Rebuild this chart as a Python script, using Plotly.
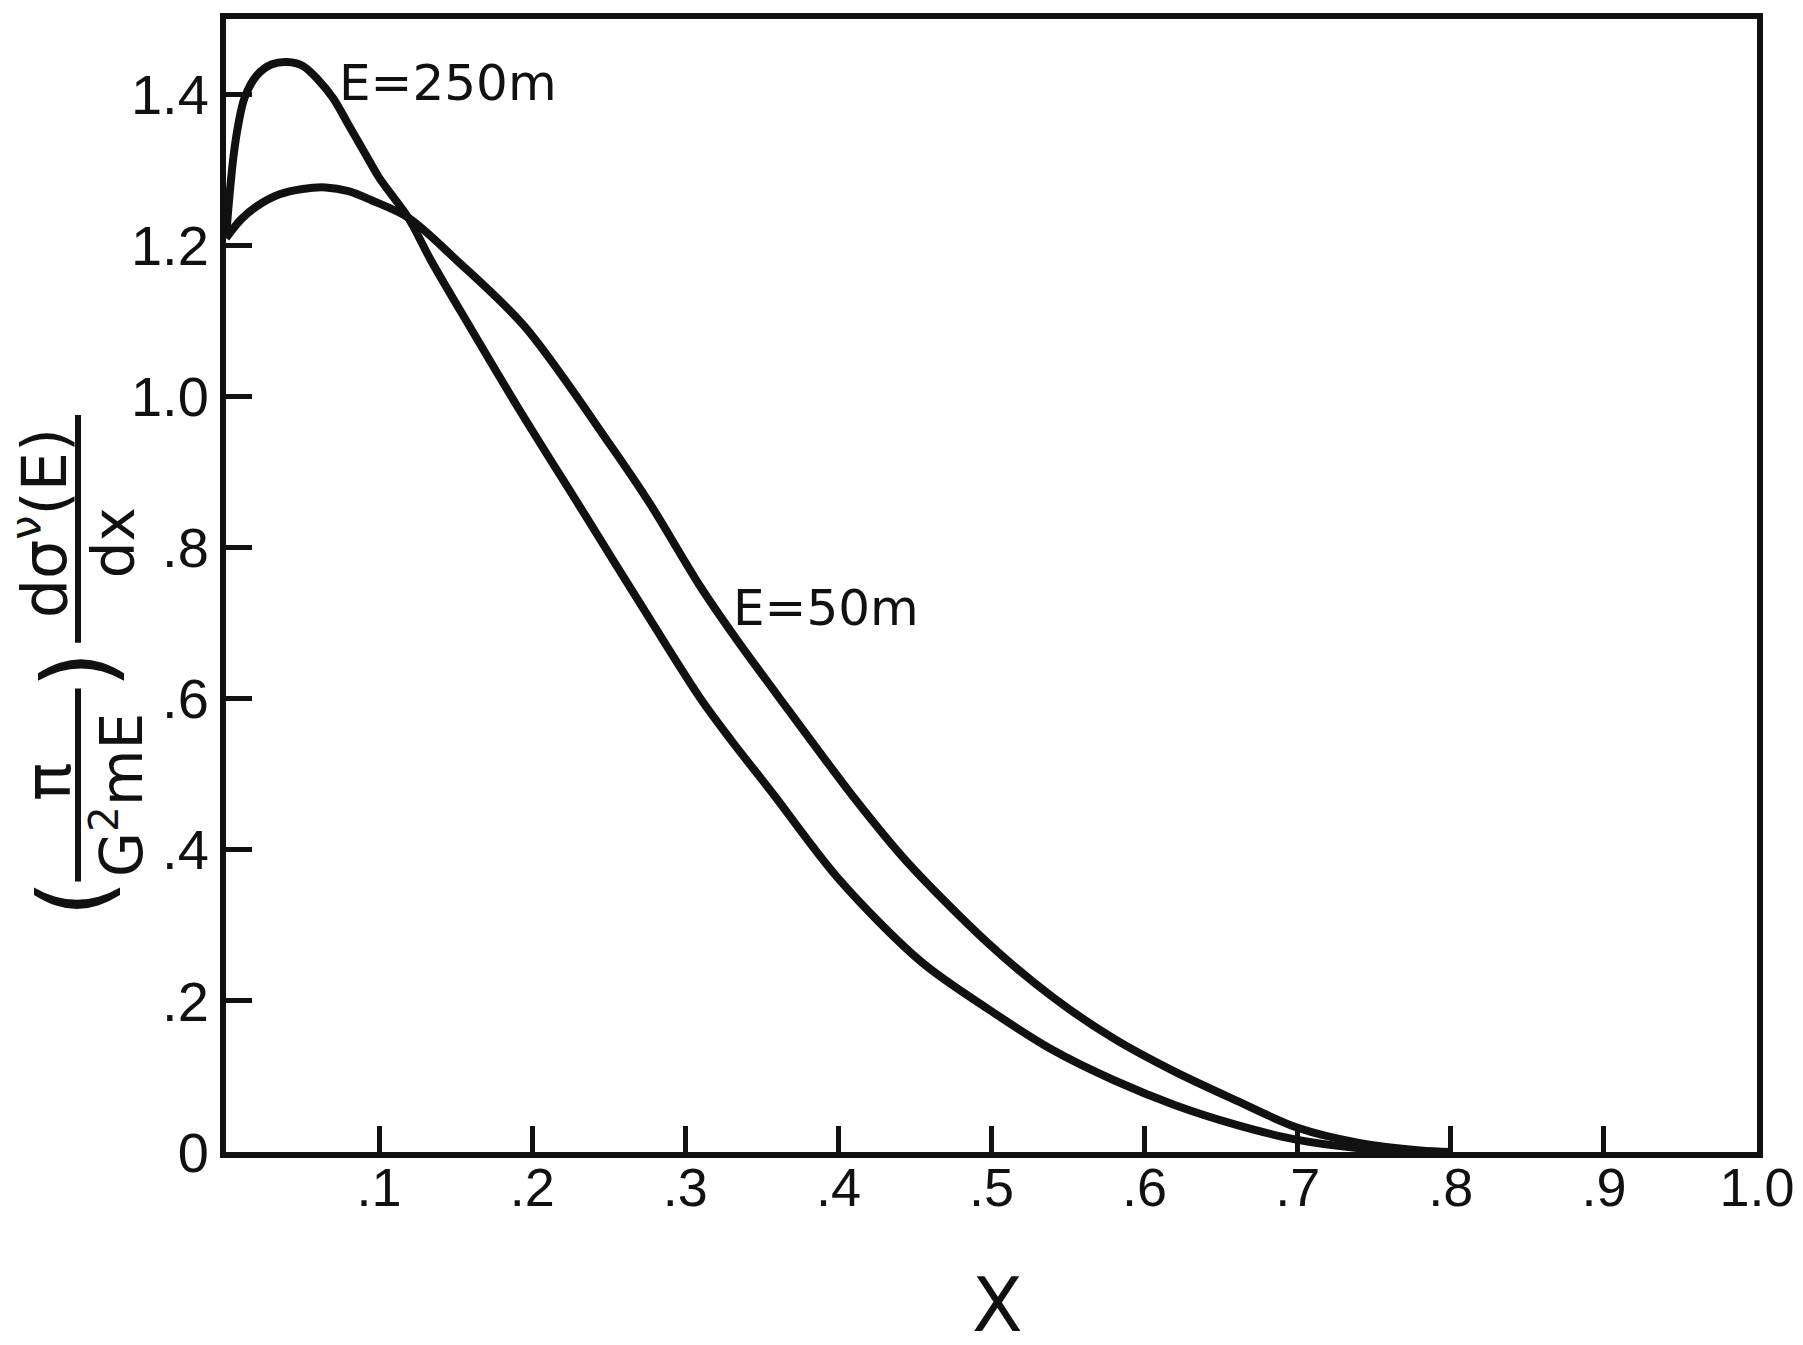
import plotly.graph_objects as go

# ---------------- data ----------------
x_250 = [0.000, 0.002, 0.005, 0.008, 0.012, 0.020, 0.030, 0.040, 0.050, 0.060,
         0.070, 0.080, 0.090, 0.100, 0.119, 0.134, 0.160, 0.190, 0.234, 0.277,
         0.310, 0.330, 0.357, 0.400, 0.454, 0.498, 0.540, 0.580, 0.620, 0.660,
         0.700, 0.740, 0.780]
y_250 = [1.21, 1.26, 1.32, 1.36, 1.395, 1.425, 1.440, 1.443, 1.438, 1.420,
         1.395, 1.360, 1.325, 1.290, 1.237, 1.180, 1.090, 0.988, 0.845, 0.705,
         0.600, 0.545, 0.475, 0.362, 0.252, 0.189, 0.135, 0.095, 0.062, 0.036,
         0.016, 0.005, 0.000]

x_50 = [0.000, 0.010, 0.020, 0.035, 0.050, 0.065, 0.080, 0.095, 0.119, 0.151,
        0.195, 0.251, 0.277, 0.310, 0.333, 0.359, 0.411, 0.444, 0.498, 0.540,
        0.580, 0.620, 0.660, 0.700, 0.740, 0.780, 0.800]
y_50 = [1.21, 1.235, 1.252, 1.268, 1.275, 1.277, 1.272, 1.260, 1.237, 1.180,
        1.093, 0.936, 0.858, 0.748, 0.680, 0.608, 0.467, 0.386, 0.276, 0.205,
        0.150, 0.106, 0.068, 0.032, 0.012, 0.002, 0.000]

x_tickvals = [0.1, 0.2, 0.3, 0.4, 0.5, 0.6, 0.7, 0.8, 0.9, 1.0]
x_ticktext = [".1", ".2", ".3", ".4", ".5", ".6", ".7", ".8", ".9", "1.0"]
y_tickvals = [0, 0.2, 0.4, 0.6, 0.8, 1.0, 1.2, 1.4]
y_ticktext = ["0", ".2", ".4", ".6", ".8", "1.0", "1.2", "1.4"]

# ---------------- layout geometry (pixels) ----------------
W, H = 1803, 1345
L, R, T, B = 218, 1749, 5, 1144
FONT = "DejaVu Sans"
TICKFONT = "Liberation Sans"
INK = "#111111"


def px(xp):
    return (xp - L) / (R - L)


def py(yp):
    return (B - yp) / (B - T)


fig = go.Figure()
for xs, ys in ((x_250, y_250), (x_50, y_50)):
    fig.add_trace(go.Scatter(x=xs, y=ys, mode="lines",
                             line=dict(color=INK, width=8, shape="spline", smoothing=0.9),
                             showlegend=False, hoverinfo="skip"))


def rot(text, xp, yp, size):
    return dict(text=text, x=px(xp), y=py(yp), xref="paper", yref="paper", showarrow=False,
                textangle=-90, xanchor="center", yanchor="middle",
                font=dict(size=size, color=INK, family=FONT))


annotations = [
    dict(text="E=250m", x=0.145, y=1.415, xref="x", yref="y", showarrow=False,
         xanchor="center", yanchor="middle", font=dict(size=50, color=INK, family=FONT)),
    dict(text="E=50m", x=0.392, y=0.72, xref="x", yref="y", showarrow=False,
         xanchor="center", yanchor="middle", font=dict(size=50, color=INK, family=FONT)),
    dict(text="X", x=px(989), y=py(1298), xref="paper", yref="paper", showarrow=False,
         xanchor="center", yanchor="middle", font=dict(size=74, color=INK, family=FONT)),
    # y-axis title pieces (rotated)
    rot("(", 66, 890, 96),
    rot("π", 40, 772, 64),
    rot("G<sup>2</sup>mE", 110, 785, 58),
    rot(")", 70, 660, 96),
    rot("dσ<sup>ν</sup>(E)", 32, 512, 62),
    rot("dx", 106, 532, 58),
]

shapes = [
    dict(type="line", xref="paper", yref="paper", x0=px(70), x1=px(70), y0=py(678), y1=py(872),
         line=dict(color=INK, width=6)),
    dict(type="line", xref="paper", yref="paper", x0=px(70), x1=px(70), y0=py(403), y1=py(632),
         line=dict(color=INK, width=6)),
]

fig.update_layout(
    width=W, height=H,
    margin=dict(l=L, r=W - R, t=T, b=H - B),
    paper_bgcolor="white", plot_bgcolor="white",
    annotations=annotations, shapes=shapes,
    font=dict(family=FONT, color=INK),
    xaxis=dict(range=[0, 1.0], tickvals=x_tickvals, ticktext=x_ticktext, ticks="inside", ticklen=26,
               tickwidth=5, tickcolor=INK, showline=True, linewidth=6, linecolor=INK, mirror=True,
               showgrid=False, zeroline=False, ticklabelstandoff=-17,
               tickfont=dict(size=54, color=INK, family=TICKFONT)),
    yaxis=dict(range=[0, 1.5], tickvals=y_tickvals, ticktext=y_ticktext, ticks="inside", ticklen=26,
               tickwidth=5, tickcolor=INK, showline=True, linewidth=6, linecolor=INK, mirror=True,
               showgrid=False, zeroline=False,
               tickfont=dict(size=56, color=INK, family=TICKFONT)),
)

fig.write_html("out.html")
